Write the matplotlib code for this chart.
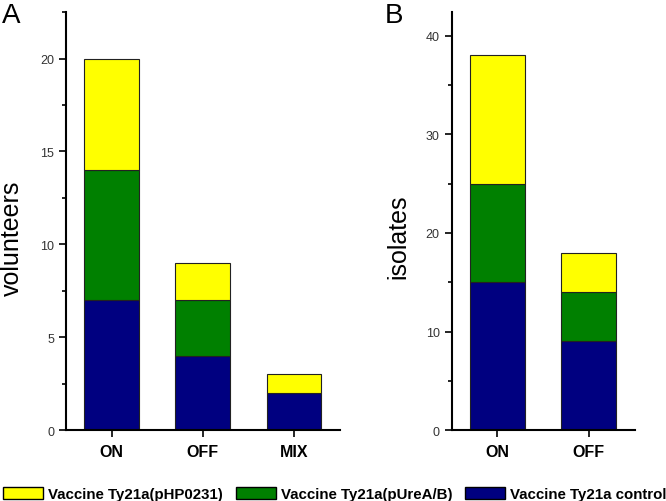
import matplotlib.pyplot as plt
from matplotlib.patches import Patch
from matplotlib.ticker import MultipleLocator

plt.rcParams['font.family'] = ['Liberation Sans', 'DejaVu Sans']

# panel A: volunteers
cats_a = ["ON", "OFF", "MIX"]
control_a = [7, 4, 2]
ureab_a = [7, 3, 0]
hp0231_a = [6, 2, 1]

# panel B: isolates
cats_b = ["ON", "OFF"]
control_b = [15, 9]
ureab_b = [10, 5]
hp0231_b = [13, 4]

labels = ["Vaccine Ty21a(pHP0231)", "Vaccine Ty21a(pUreA/B)", "Vaccine Ty21a control"]
colors = ["#FFFF00", "#008000", "#000080"]


def stacked(ax, cats, control, ureab, hp, ylim, major, minor):
    x = list(range(len(cats)))
    b1 = control
    b2 = [a + b for a, b in zip(control, ureab)]
    ax.bar(x, control, width=0.6, color=colors[2], edgecolor="#222222", linewidth=0.8)
    ax.bar(x, ureab, width=0.6, bottom=b1, color=colors[1], edgecolor="#222222", linewidth=0.8)
    ax.bar(x, hp, width=0.6, bottom=b2, color=colors[0], edgecolor="#222222", linewidth=0.8)
    ax.set_xlim(-0.5, len(cats) - 0.5)
    ax.set_ylim(0, ylim)
    ax.set_xticks(x)
    ax.set_xticklabels(cats, fontweight="bold", fontsize=11.5)
    ax.yaxis.set_major_locator(MultipleLocator(major))
    ax.yaxis.set_minor_locator(MultipleLocator(minor))
    ax.tick_params(axis="y", which="major", length=5, width=1.2, labelsize=9, labelcolor="#333333")
    ax.tick_params(axis="y", which="minor", length=3, width=1.2)
    ax.tick_params(axis="x", length=5, width=1.2, pad=5)
    for s in ["top", "right"]:
        ax.spines[s].set_visible(False)
    for s in ["left", "bottom"]:
        ax.spines[s].set_linewidth(1.5)


fig = plt.figure(figsize=(6.66, 5.02), dpi=100)
ax1 = fig.add_axes([0.099, 0.141, 0.411, 0.833])
ax2 = fig.add_axes([0.678, 0.141, 0.275, 0.833])

stacked(ax1, cats_a, control_a, ureab_a, hp0231_a, 22.5, 5, 2.5)
stacked(ax2, cats_b, control_b, ureab_b, hp0231_b, 42.4, 10, 5)

fig.text(12 / 666, 1 - 238 / 502, "volunteers", fontsize=18, rotation=90, ha="center", va="center")
fig.text(398 / 666, 1 - 237 / 502, "isolates", fontsize=18, rotation=90, ha="center", va="center")

fig.text(0.003, 0.995, "A", fontsize=20, va="top", ha="left")
fig.text(0.578, 0.995, "B", fontsize=20, va="top", ha="left")

handles = [Patch(facecolor=c, edgecolor="black", linewidth=1) for c in colors]
fig.legend(handles, labels, loc="lower left", bbox_to_anchor=(3 / 666, 0.0), ncol=3,
           frameon=False, prop={"size": 10.8, "weight": "bold"}, handlelength=2.67,
           handleheight=0.8, handletextpad=0.33, columnspacing=0.87,
           borderpad=0, borderaxespad=0)

fig.savefig("out.png", dpi=100)
